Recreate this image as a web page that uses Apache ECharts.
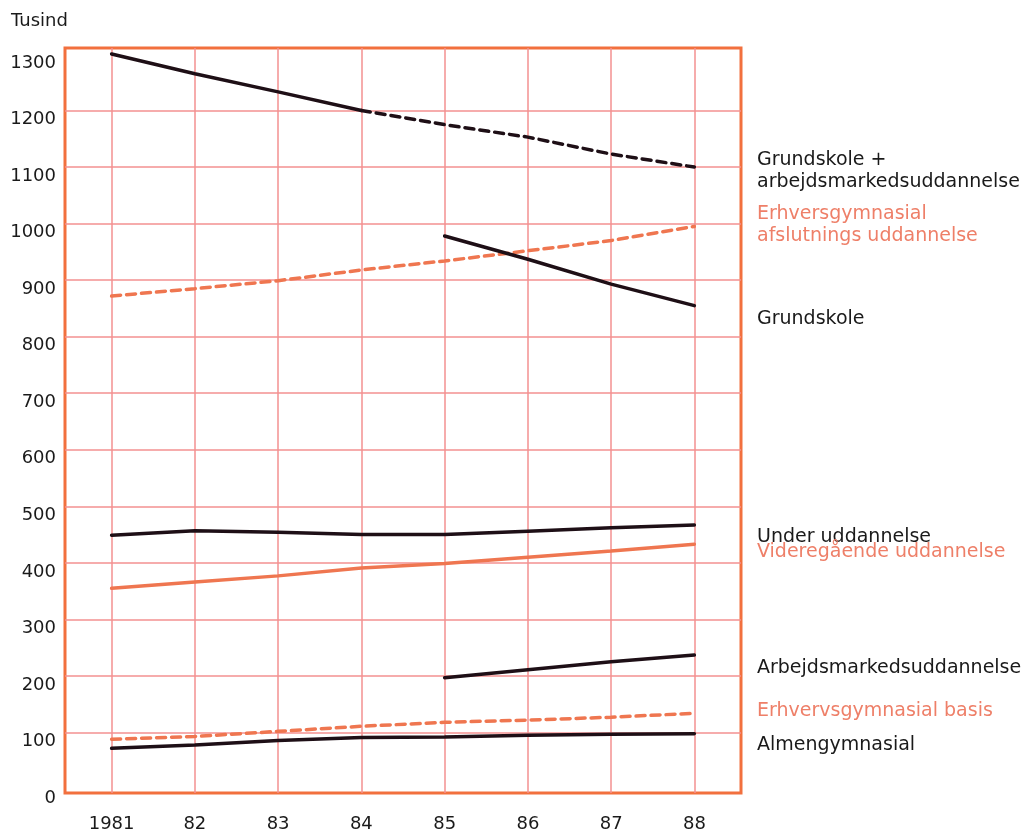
<!DOCTYPE html>
<html>
<head>
<meta charset="utf-8">
<script src="https://cdn.jsdelivr.net/npm/echarts@6/dist/echarts.min.js"></script>
<style>
  html, body { margin: 0; padding: 0; background: #fff; }
  #chart { width: 1027px; height: 834px; }
</style>
</head>
<body>
<div id="chart"></div>
<script>
// ---- data ----
const years = [1981, 1982, 1983, 1984, 1985, 1986, 1987, 1988];
const yearLabels = ['1981', '82', '83', '84', '85', '86', '87', '88'];
const yTicks = [0, 100, 200, 300, 400, 500, 600, 700, 800, 900, 1000, 1100, 1200, 1300];
const yGridLines = [100, 200, 300, 400, 500, 600, 700, 800, 900, 1000, 1100, 1200];

const grundArbYearsSolid = [1981, 1982, 1983, 1984];
const grundArbSolid = [1300, 1265, 1233, 1200];
const grundArbYearsDashed = [1984, 1985, 1986, 1987, 1988];
const grundArbDashed = [1200, 1175, 1153, 1123, 1100];
const erhvAfslut = [872, 885, 899, 918, 934, 952, 970, 995];
const lateYears = [1985, 1986, 1987, 1988];
const grundskole = [978, 937, 893, 855];
const underUdd = [449, 457, 454, 450, 450, 456, 462, 467];
const videregaaende = [355, 366, 377, 391, 399, 410, 421, 433];
const arbMarked = [197, 211, 225, 237];
const erhvBasis = [88, 93, 102, 111, 118, 122, 127, 134];
const almen = [72, 78, 86, 91, 92, 95, 97, 98];

const labelsRight = [
  { text: 'Grundskole +', y: 160, c: 'dark' },
  { text: 'arbejdsmarkedsuddannelse', y: 182, c: 'dark' },
  { text: 'Erhversgymnasial', y: 214, c: 'salmon' },
  { text: 'afslutnings uddannelse', y: 236, c: 'salmon' },
  { text: 'Grundskole', y: 319, c: 'dark' },
  { text: 'Under uddannelse', y: 537, c: 'dark' },
  { text: 'Videregående uddannelse', y: 552, c: 'salmon' },
  { text: 'Arbejdsmarkedsuddannelse', y: 668, c: 'dark' },
  { text: 'Erhvervsgymnasial basis', y: 711, c: 'salmon' },
  { text: 'Almengymnasial', y: 745, c: 'dark' }
];

// ---- styles ----
const DARK = '#1e0f16';
const SALMON = '#ef7650';
const SALMON_TEXT = '#ee7f68';
const FONT = 'DejaVu Sans';

function pairs(xs, vs) { return xs.map((x, i) => [x, vs[i]]); }

function line(name, xs, vs, color, dashed) {
  return {
    name: name,
    type: 'line',
    data: pairs(xs, vs),
    symbol: 'none',
    silent: true,
    lineStyle: { color: color, width: 3.5, type: dashed ? [9, 6] : 'solid', cap: 'round' },
    z: 5
  };
}

const chart = echarts.init(document.getElementById('chart'), null, { renderer: 'canvas' });

const option = {
  backgroundColor: '#ffffff',
  animation: false,
  grid: {
    left: 65, right: 286, top: 48, bottom: 41,
    show: true, borderColor: '#f2703e', borderWidth: 3, backgroundColor: 'transparent'
  },
  xAxis: {
    type: 'value',
    min: 1980.44, max: 1988.56,
    axisLine: { show: false },
    axisTick: { show: false, customValues: years },
    splitLine: { show: true, lineStyle: { color: '#f39090', width: 1.5 } },
    axisLabel: {
      customValues: years,
      formatter: v => yearLabels[years.indexOf(Math.round(v))] || '',
      color: '#1a1a1a', fontFamily: FONT, fontSize: 18, margin: 22
    }
  },
  yAxis: {
    type: 'value',
    min: -7, max: 1310.6,
    axisLine: { show: false },
    axisTick: { show: false, customValues: yGridLines },
    splitLine: { show: true, lineStyle: { color: '#f39090', width: 1.5 } },
    axisLabel: {
      customValues: yTicks,
      formatter: v => String(Math.round(v)),
      color: '#1a1a1a', fontFamily: FONT, fontSize: 18, margin: 9,
      verticalAlign: 'top'
    }
  },
  graphic: [
    { type: 'text', left: 11, top: 12, style: { text: 'Tusind', fill: '#1a1a1a', font: '18px "' + FONT + '"' } }
  ].concat(labelsRight.map(l => ({
    type: 'text', x: 757, y: l.y,
    style: {
      text: l.text, fill: l.c === 'dark' ? '#1a1a1a' : SALMON_TEXT,
      font: '19px "' + FONT + '"', textVerticalAlign: 'middle'
    }
  }))),
  series: [
    line('Grundskole + arbejdsmarkedsuddannelse', grundArbYearsSolid, grundArbSolid, DARK, false),
    line('Grundskole + arbejdsmarkedsuddannelse (prognose)', grundArbYearsDashed, grundArbDashed, DARK, true),
    line('Erhversgymnasial afslutnings uddannelse', years, erhvAfslut, SALMON, true),
    line('Grundskole', lateYears, grundskole, DARK, false),
    line('Under uddannelse', years, underUdd, DARK, false),
    line('Videregående uddannelse', years, videregaaende, SALMON, false),
    line('Arbejdsmarkedsuddannelse', lateYears, arbMarked, DARK, false),
    line('Erhvervsgymnasial basis', years, erhvBasis, SALMON, true),
    line('Almengymnasial', years, almen, DARK, false)
  ]
};
chart.setOption(option);
</script>
</body>
</html>
